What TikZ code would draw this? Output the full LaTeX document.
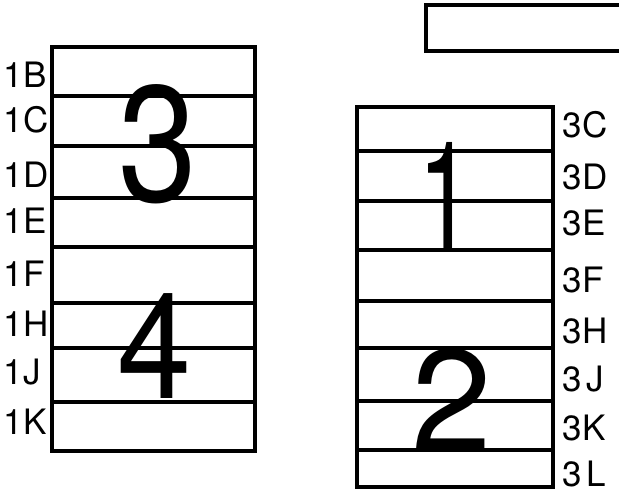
\documentclass[tikz,border=0pt]{standalone}
\usepackage{fontspec}
\setmainfont{TeX Gyre Heros}
\begin{document}
\begin{tikzpicture}[x=1pt,y=-1pt,line width=3.2pt,
  lbl/.style={anchor=base west,inner sep=0pt,font=\fontsize{35}{35}\selectfont},
  bigdigit/.style={anchor=base,inner sep=0pt}]
\useasboundingbox (0,0) rectangle (619,497);
% left box
\draw (52,47) rectangle (255,451);
\foreach \yy in {96,146,198,247,303,348,402} \draw (52,\yy) -- (257,\yy);
% right box
\draw (357,107) rectangle (553,487);
\foreach \yy in {151,201,250,301,348,401,450} \draw (357,\yy) -- (555,\yy);
% top open rectangle
\draw (624,5) -- (426,5) -- (426,51) -- (624,51);
% big digits
\node[bigdigit,font=\fontsize{165}{165}\selectfont] (d3) at (158,202) {\scalebox{0.86}[1]{3}};
\node[bigdigit,font=\fontsize{148}{148}\selectfont] (d4) at (155,398) {\scalebox{0.9}[1]{4}};
\node[bigdigit,font=\fontsize{151}{151}\selectfont] (d1) at (446,250) {\scalebox{0.65}[1]{1}};
\node[bigdigit,font=\fontsize{145}{145}\selectfont] (d2) at (452,451) {2};
% left labels
\node[lbl] (l1B) at (2,88) {1B};
\node[lbl] (l1C) at (2,133) {1C};
\node[lbl] (l1D) at (2,188) {1D};
\node[lbl] (l1E) at (2,234) {1E};
\node[lbl] (l1F) at (2,287) {1F};
\node[lbl] (l1H) at (2,337) {1H};
\node[lbl] (l1J) at (2,384) {1J};
\node[lbl] (l1K) at (2,434) {1K};
% right labels
\node[lbl] (r3C) at (561,138) {3C};
\node[lbl] (r3D) at (561,190) {3D};
\node[lbl] (r3E) at (561,236) {3E};
\node[lbl] (r3F) at (561,293) {3F};
\node[lbl] (r3H) at (561,344) {3H};
\node[lbl] (r3J) at (561,391) {3\kern4pt J};
\node[lbl] (r3K) at (561,440) {3K};
\node[lbl] (r3L) at (561,486) {3\kern4pt L};
\end{tikzpicture}
\end{document}
